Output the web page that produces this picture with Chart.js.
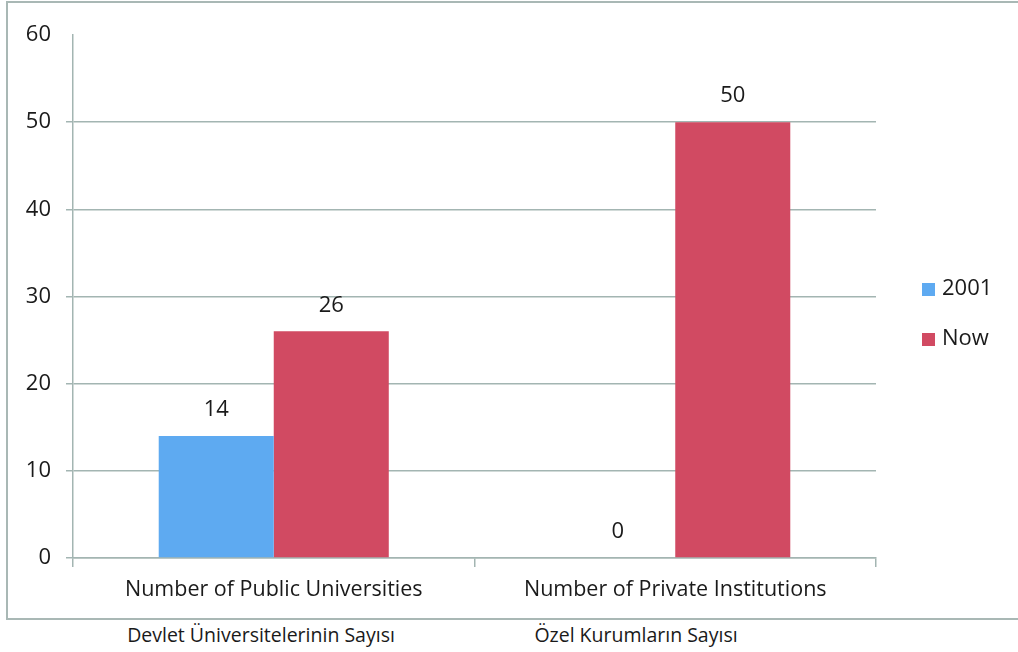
<!DOCTYPE html>
<html>
<head>
  <meta charset="UTF-8">
  <title>Universities</title>
  <style>
    html, body { margin: 0; background: #fff; font-family: "Open Sans", sans-serif; overflow: hidden; width: 1018px; height: 652px; }
    #frame { position: absolute; left: 6px; top: 1px; width: 1030px; height: 619px;
             border: 2px solid #a9b8b5; box-sizing: border-box; }
    .sub { position: absolute; top: 621px; font-size: 19.5px; color: #1a1a1a; transform: translateX(-50%); white-space: nowrap; }
  </style>
</head>
<body>
<div id="frame">
  <canvas id="myChart" width="1004" height="615"></canvas>
</div>
<div class="sub" style="left: 261px;">Devlet Üniversitelerinin Sayısı</div>
<div class="sub" style="left: 636px;">Özel Kurumların Sayısı</div>
<script src="https://cdn.jsdelivr.net/npm/chart.js"></script>
<script>
const categories = ['Number of Public Universities', 'Number of Private Institutions'];
const seriesNames = ['2001', 'Now'];
const values2001 = [14, 0];
const valuesNow = [26, 50];
const yTicks = [0, 10, 20, 30, 40, 50, 60];

const gridColor = '#a3b5b2';
const textColor = '#1a1a1a';

// value labels above bars
const valueLabels = {
  id: 'valueLabels',
  afterDatasetsDraw(chart) {
    const ctx = chart.ctx;
    ctx.save();
    ctx.font = '22px "Open Sans"';
    ctx.fillStyle = textColor;
    ctx.textAlign = 'center';
    ctx.textBaseline = 'middle';
    chart.data.datasets.forEach((ds, i) => {
      chart.getDatasetMeta(i).data.forEach((bar, j) => {
        ctx.fillText(ds.data[j], bar.x, bar.y - 26);
      });
    });
    ctx.restore();
  }
};

// legend on the right
const sideLegend = {
  id: 'sideLegend',
  afterDraw(chart) {
    const ctx = chart.ctx;
    const area = chart.chartArea;
    ctx.save();
    ctx.font = '22px "Open Sans"';
    ctx.textBaseline = 'middle';
    chart.data.datasets.forEach((ds, i) => {
      const x = area.right + 46;
      const y = 286 + i * 50;
      ctx.fillStyle = ds.backgroundColor;
      ctx.fillRect(x, y - 6, 13, 13);
      ctx.fillStyle = textColor;
      ctx.fillText(ds.label, x + 20, y);
    });
    ctx.restore();
  }
};

const myChart = new Chart(document.getElementById('myChart'), {
  type: 'bar',
  data: {
    labels: categories,
    datasets: [
      { label: seriesNames[0], data: values2001, backgroundColor: '#5eaaf1' },
      { label: seriesNames[1], data: valuesNow, backgroundColor: '#d14a62' }
    ]
  },
  options: {
    responsive: false,
    animation: false,
    events: [],
    layout: { padding: { top: 32, right: 136, bottom: 0, left: 0 } },
    datasets: { bar: { categoryPercentage: 0.573, barPercentage: 1.0 } },
    plugins: { legend: { display: false }, tooltip: { enabled: false } },
    scales: {
      x: {
        grid: { drawOnChartArea: false, drawTicks: true, tickLength: 9, color: gridColor, lineWidth: 1.5 },
        border: { color: gridColor, width: 1.5 },
        ticks: { color: textColor, font: { family: 'Open Sans', size: 21.5 }, padding: 10, maxRotation: 0 },
        afterFit(scale) { scale.height = 60; }
      },
      y: {
        min: 0, max: 60,
        afterBuildTicks(scale) { scale.ticks = yTicks.map(v => ({ value: v })); },
        grid: {
          color: ctx => ctx.tick && ctx.tick.value === 60 ? 'rgba(0,0,0,0)' : gridColor,
          lineWidth: 1.5, tickLength: 7
        },
        border: { color: gridColor, width: 1.5 },
        ticks: { color: textColor, font: { family: 'Open Sans', size: 22 }, padding: 15 },
        afterFit(scale) { scale.width = 65; }
      }
    }
  },
  plugins: [valueLabels, sideLegend]
});
</script>
</body>
</html>
